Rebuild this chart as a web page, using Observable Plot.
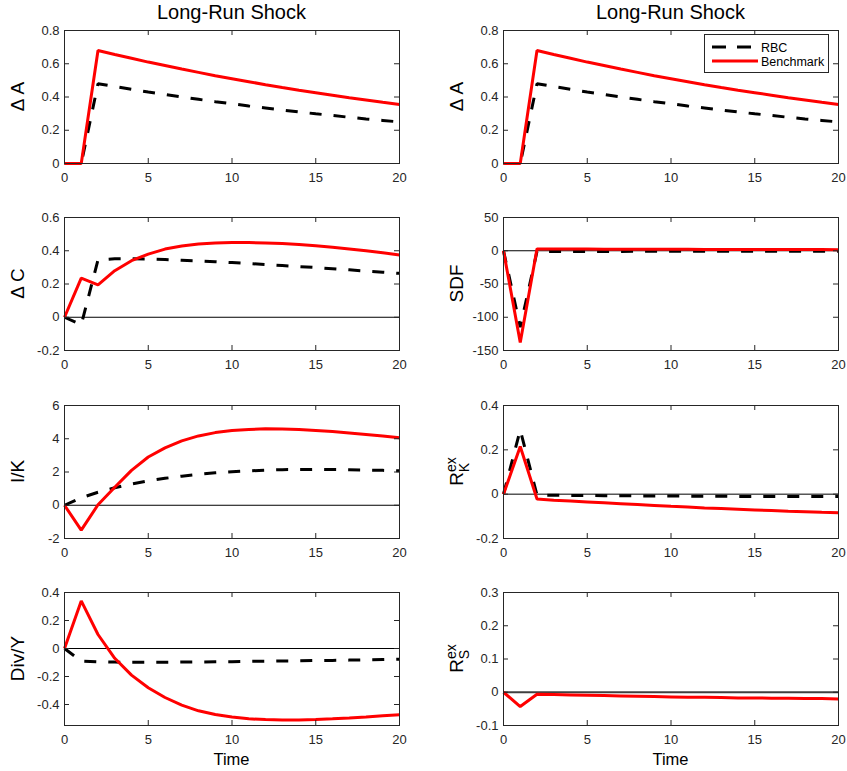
<!DOCTYPE html>
<html><head><meta charset="utf-8">
<script src="https://cdn.jsdelivr.net/npm/d3@7"></script>
<script src="https://cdn.jsdelivr.net/npm/@observablehq/plot@0.6"></script>
<style>
body{margin:0;background:#fff}
#fig{position:relative;width:847px;height:771px;overflow:hidden;font-family:"Liberation Sans",Arial,sans-serif;background:#fff}
.p{position:absolute}
</style></head><body><div id="fig"></div>
<script>
// ---------- data ----------
const time = [0,1,2,3,4,5,6,7,8,9,10,11,12,13,14,15,16,17,18,19,20];
const seriesNames = ["RBC", "Benchmark"];
const columnTitles = ["Long-Run Shock", "Long-Run Shock"];
const xTicks = [0,5,10,15,20];

const dA_RBC   = [0,0,0.48,0.463,0.446,0.430,0.415,0.400,0.386,0.372,0.359,0.346,0.334,0.322,0.310,0.299,0.289,0.278,0.268,0.259,0.250];
const dA_Bench = [0,0,0.68,0.656,0.633,0.610,0.589,0.568,0.548,0.528,0.510,0.492,0.474,0.457,0.441,0.426,0.411,0.396,0.382,0.368,0.355];

const dC_RBC   = [0,-0.045,0.345,0.352,0.352,0.350,0.347,0.343,0.339,0.334,0.329,0.323,0.317,0.311,0.305,0.299,0.292,0.285,0.278,0.271,0.264];
const dC_Bench = [0,0.235,0.195,0.28,0.34,0.38,0.41,0.428,0.44,0.446,0.449,0.449,0.447,0.443,0.437,0.43,0.421,0.411,0.40,0.388,0.375];

const IK_RBC   = [0,0.45,0.78,1.05,1.28,1.47,1.62,1.75,1.86,1.95,2.02,2.07,2.11,2.14,2.15,2.16,2.15,2.14,2.12,2.10,2.07];
const IK_Bench = [0,-1.5,0.03,1.08,2.1,2.9,3.45,3.87,4.17,4.37,4.49,4.56,4.60,4.59,4.55,4.50,4.43,4.35,4.26,4.17,4.06];

const DY_RBC   = [0,-0.09,-0.095,-0.097,-0.098,-0.098,-0.098,-0.097,-0.096,-0.095,-0.094,-0.092,-0.091,-0.089,-0.088,-0.086,-0.085,-0.083,-0.081,-0.079,-0.077];
const DY_Bench = [0,0.34,0.10,-0.07,-0.19,-0.28,-0.35,-0.405,-0.445,-0.472,-0.49,-0.502,-0.508,-0.51,-0.51,-0.507,-0.502,-0.496,-0.489,-0.481,-0.473];

const SDF_RBC   = [0,-115,-1.0,-1.0,-1.0,-1.0,-1.0,-1.0,-0.9,-0.9,-0.9,-0.9,-0.9,-0.9,-0.9,-0.8,-0.8,-0.8,-0.8,-0.8,-0.8];
const SDF_Bench = [0,-138,2.8,2.7,2.6,2.5,2.4,2.4,2.3,2.2,2.2,2.1,2.0,2.0,1.9,1.9,1.8,1.8,1.7,1.7,1.6];

const RK_RBC   = [0,0.29,-0.004,-0.005,-0.006,-0.006,-0.007,-0.007,-0.008,-0.008,-0.008,-0.009,-0.009,-0.009,-0.010,-0.010,-0.010,-0.010,-0.011,-0.011,-0.011];
const RK_Bench = [0,0.215,-0.022,-0.027,-0.031,-0.035,-0.039,-0.043,-0.047,-0.051,-0.055,-0.058,-0.062,-0.065,-0.068,-0.071,-0.074,-0.077,-0.079,-0.082,-0.084];

const RS_Bench = [0,-0.043,-0.006,-0.007,-0.008,-0.009,-0.010,-0.011,-0.012,-0.013,-0.014,-0.015,-0.015,-0.016,-0.017,-0.017,-0.018,-0.018,-0.019,-0.019,-0.020];

const yTicks_dA  = [0,0.2,0.4,0.6,0.8];
const yTicks_dC  = [-0.2,0,0.2,0.4,0.6];
const yTicks_IK  = [-2,0,2,4,6];
const yTicks_DY  = [-0.4,-0.2,0,0.2,0.4];
const yTicks_SDF = [-150,-100,-50,0,50];
const yTicks_RK  = [-0.2,0,0.2,0.4];
const yTicks_RS  = [-0.1,0,0.1,0.2,0.3];

// label: [main, superscript, subscript]
const panels = [
  {col:0,row:0,label:["\u0394 A"],   rbc:dA_RBC,  bench:dA_Bench,  domain:[0,0.8],     ticks:yTicks_dA,  zero:false},
  {col:0,row:1,label:["\u0394 C"],   rbc:dC_RBC,  bench:dC_Bench,  domain:[-0.2,0.6],  ticks:yTicks_dC,  zero:true},
  {col:0,row:2,label:["I/K"],        rbc:IK_RBC,  bench:IK_Bench,  domain:[-2,6],      ticks:yTicks_IK,  zero:true},
  {col:0,row:3,label:["Div/Y"],      rbc:DY_RBC,  bench:DY_Bench,  domain:[-0.55,0.4], ticks:yTicks_DY,  zero:true},
  {col:1,row:0,label:["\u0394 A"],   rbc:dA_RBC,  bench:dA_Bench,  domain:[0,0.8],     ticks:yTicks_dA,  zero:false, legend:true},
  {col:1,row:1,label:["SDF"],        rbc:SDF_RBC, bench:SDF_Bench, domain:[-150,50],   ticks:yTicks_SDF, zero:true},
  {col:1,row:2,label:["R","ex","K"], rbc:RK_RBC,  bench:RK_Bench,  domain:[-0.2,0.4],  ticks:yTicks_RK,  zero:true},
  {col:1,row:3,label:["R","ex","S"], rbc:null,    bench:RS_Bench,  domain:[-0.1,0.3],  ticks:yTicks_RS,  zero:true, zeroWidth:2, zeroColor:"#404040"}
];

// ---------- layout ----------
const fig = document.getElementById("fig");
const FONT = '"Liberation Sans", Arial, sans-serif';
const INK = "#262626";
const colLeft = [0, 439];
const colMR = [12, 9];
const ML = 64, PW = 335, PH = 133;
const rowPlotTop = [30, 217, 405, 592];
const TICK = 5;

function fmt(d){ return String(d); }

panels.forEach(p => {
  const mt = p.row === 0 ? 30 : 10;
  const mb = p.row === 3 ? 46 : 25;
  const mr = colMR[p.col];
  const W = ML + PW + mr, H = mt + PH + mb;
  const rows = time.map((t,i) => ({t, rbc: p.rbc ? p.rbc[i] : null, bench: p.bench[i]}));
  const svg = Plot.plot({
    width: W, height: H,
    marginLeft: ML, marginRight: mr, marginTop: mt, marginBottom: mb,
    x: {domain: [0,20]},
    y: {domain: p.domain},
    style: {fontFamily: FONT, fontSize: "13px", color: INK, background: "transparent", overflow: "visible"},
    marks: [
      p.zero ? Plot.ruleY([0], {stroke: p.zeroColor || "#000", strokeWidth: p.zeroWidth || 1}) : null,
      p.rbc ? Plot.line(rows, {x:"t", y:"rbc", stroke:"#000", strokeWidth:3, strokeDasharray:"12,12", strokeLinecap:"butt", strokeLinejoin:"miter"}) : null,
      Plot.line(rows, {x:"t", y:"bench", stroke:"#ff0000", strokeWidth:3, strokeLinejoin:"miter", strokeLinecap:"butt"}),
      Plot.frame({stroke: INK, strokeWidth: 1}),
      Plot.tickX(xTicks, {x: d=>d, stroke: INK, insetTop: PH - TICK}),
      Plot.tickX(xTicks, {x: d=>d, stroke: INK, insetBottom: PH - TICK}),
      Plot.tickY(p.ticks, {y: d=>d, stroke: INK, insetRight: PW - TICK}),
      Plot.tickY(p.ticks, {y: d=>d, stroke: INK, insetLeft: PW - TICK}),
      Plot.axisX(xTicks, {tickSize: 0, tickPadding: 9, tickFormat: fmt, label: null, fill: INK}),
      Plot.axisY(p.ticks, {tickSize: 0, tickPadding: 5, tickFormat: fmt, label: null, fill: INK})
    ]
  });
  svg.classList.add("p");
  svg.style.left = colLeft[p.col] + "px";
  svg.style.top = (rowPlotTop[p.row] - mt) + "px";
  fig.appendChild(svg);

  const s = d3.select(svg);
  // y label
  const lx = ML - 40, ly = mt + PH / 2;
  const txt = s.append("text")
    .attr("transform", `translate(${lx},${ly}) rotate(-90)`)
    .attr("text-anchor", "middle")
    .attr("font-family", FONT)
    .attr("font-size", 19)
    .attr("fill", "#000");
  if (p.label.length === 1) {
    txt.text(p.label[0]);
  } else {
    txt.append("tspan").text(p.label[0]);
    txt.append("tspan").attr("font-size", 14).attr("dy", -7).text(p.label[1]);
    txt.append("tspan").attr("font-size", 14).attr("dx", -15).attr("dy", 13).text(p.label[2]);
  }
  // column title
  if (p.row === 0) {
    s.append("text").attr("x", ML + PW/2).attr("y", 19)
      .attr("text-anchor","middle").attr("font-family",FONT).attr("font-size",20).attr("fill","#000")
      .text(columnTitles[p.col]);
  }
  // x label
  if (p.row === 3) {
    s.append("text").attr("x", ML + PW/2).attr("y", mt + PH + 40)
      .attr("text-anchor","middle").attr("font-family",FONT).attr("font-size",16.5).attr("fill","#000")
      .text("Time");
  }
  // legend
  if (p.legend) {
    const g = s.append("g").attr("transform", `translate(${ML + PW - 134},${mt + 4})`);
    g.append("rect").attr("x",0.5).attr("y",0.5).attr("width",124).attr("height",38)
      .attr("fill","#fff").attr("stroke",INK).attr("stroke-width",1);
    const styles = [{stroke:"#000", dash:"14,11"}, {stroke:"#ff0000", dash:null}];
    seriesNames.forEach((name,i) => {
      const y = 13 + i*14;
      const ln = g.append("line").attr("x1",8).attr("x2",54).attr("y1",y).attr("y2",y)
        .attr("stroke",styles[i].stroke).attr("stroke-width",3);
      if (styles[i].dash) ln.attr("stroke-dasharray",styles[i].dash);
      g.append("text").attr("x",57).attr("y",y+4.5).attr("text-anchor","start")
        .attr("font-family",FONT).attr("font-size",12.5)
        .attr("fill","#000").text(name);
    });
  }
});
</script>
</body></html>
